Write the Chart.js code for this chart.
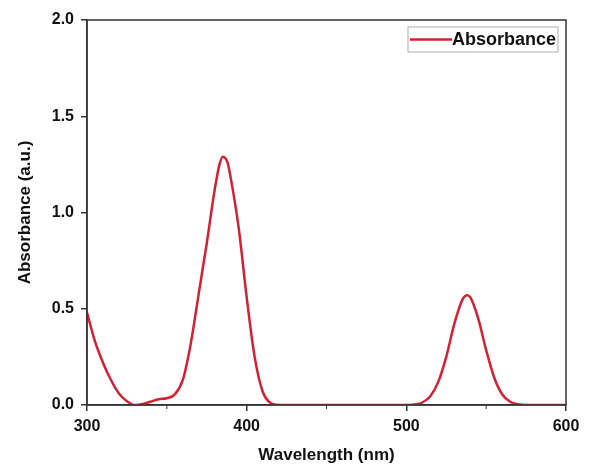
<!DOCTYPE html>
<html>
<head>
<meta charset="utf-8">
<script src="https://cdn.jsdelivr.net/npm/chart.js@4/dist/chart.umd.min.js"></script>
<style>
  html, body { margin: 0; padding: 0; background: #fff; }
  #wrap { width: 589px; height: 466px; }
</style>
</head>
<body>
<div id="wrap"><canvas id="uvChart" width="589" height="466"></canvas></div>
<script>
// values
const wavelength = [300, 305, 310, 315, 320, 325, 330, 335, 340, 345, 350, 355, 360, 365, 370, 375, 380, 383, 385, 388, 390, 395, 400, 405, 410, 415, 420,
  450, 480, 500, 505, 510, 515, 520, 525, 530, 535, 538, 540, 545, 550, 555, 560, 565, 570, 575, 600];
const absorbance = [0.48, 0.33, 0.22, 0.13, 0.06, 0.02, 0.0, 0.005, 0.018, 0.03, 0.035, 0.055, 0.13, 0.32, 0.58, 0.84, 1.12, 1.25, 1.29, 1.26, 1.18, 0.92, 0.56, 0.25, 0.07, 0.01, 0.0,
  0.0, 0.0, 0.0, 0.003, 0.013, 0.045, 0.12, 0.25, 0.42, 0.545, 0.57, 0.56, 0.45, 0.285, 0.143, 0.056, 0.017, 0.004, 0.0, 0.0];
const xTicks = [300, 400, 500, 600];
const yTicks = [0.0, 0.5, 1.0, 1.5, 2.0];
const seriesName = 'Absorbance';

const axisColor = '#333';
const lineColor = '#d42032';

// full frame + minor x ticks + boxed legend
const frameLegend = {
  id: 'frameLegend',
  afterDraw(chart) {
    const { ctx, chartArea: a, scales } = chart;
    ctx.save();
    ctx.strokeStyle = axisColor;
    ctx.lineWidth = 1.5;
    ctx.strokeRect(a.left, a.top, a.right - a.left, a.bottom - a.top);

    // minor ticks halfway between labelled ones
    ctx.lineWidth = 1;
    for (let i = 0; i < xTicks.length - 1; i++) {
      const px = scales.x.getPixelForValue((xTicks[i] + xTicks[i + 1]) / 2);
      ctx.beginPath();
      ctx.moveTo(px, a.bottom);
      ctx.lineTo(px, a.bottom + 4);
      ctx.stroke();
    }

    // legend
    const lx = 408, ly = 27, lw = 150, lh = 25;
    ctx.strokeStyle = '#999';
    ctx.lineWidth = 0.8;
    ctx.strokeRect(lx, ly, lw, lh);
    ctx.strokeStyle = lineColor;
    ctx.lineWidth = 2.5;
    ctx.beginPath();
    ctx.moveTo(lx + 2, ly + lh / 2);
    ctx.lineTo(lx + 44, ly + lh / 2);
    ctx.stroke();
    ctx.fillStyle = '#111';
    ctx.font = 'bold 18px "Liberation Sans", Arial, sans-serif';
    ctx.textBaseline = 'middle';
    ctx.fillText(seriesName, lx + 44, ly + lh / 2 + 1);
    ctx.restore();
  }
};

const tickFont = { family: '"Liberation Sans", Arial, sans-serif', size: 16, weight: 'bold' };
const titleFont = { family: '"Liberation Sans", Arial, sans-serif', size: 17, weight: 'bold' };

new Chart(document.getElementById('uvChart'), {
  type: 'line',
  data: {
    datasets: [{
      label: seriesName,
      data: wavelength.map((w, i) => ({ x: w, y: absorbance[i] })),
      borderColor: lineColor,
      borderWidth: 2.5,
      pointRadius: 0,
      cubicInterpolationMode: 'monotone',
      fill: false
    }]
  },
  plugins: [frameLegend],
  options: {
    responsive: false,
    animation: false,
    layout: { padding: { left: 10, right: 23, top: 20, bottom: 0 } },
    plugins: {
      legend: { display: false },
      tooltip: { enabled: false }
    },
    scales: {
      x: {
        type: 'linear',
        min: xTicks[0],
        max: xTicks[xTicks.length - 1],
        afterBuildTicks: s => { s.ticks = xTicks.map(v => ({ value: v })); },
        afterFit: s => { s.height = 61; },
        ticks: { color: '#111', font: tickFont, padding: 6, maxRotation: 0, callback: v => String(v) },
        grid: { drawOnChartArea: false, tickLength: 6, color: axisColor, lineWidth: 1.5 },
        border: { display: true, color: axisColor, width: 1.5 },
        title: { display: true, text: 'Wavelength (nm)', color: '#111', font: titleFont, padding: { top: 0, bottom: 0 } }
      },
      y: {
        min: yTicks[0],
        max: yTicks[yTicks.length - 1],
        afterBuildTicks: s => { s.ticks = yTicks.map(v => ({ value: v })); },
        afterFit: s => { s.width = 77; },
        ticks: { color: '#111', font: tickFont, padding: 7, callback: v => Number(v).toFixed(1) },
        grid: { drawOnChartArea: false, tickLength: 6, color: axisColor, lineWidth: 1.5 },
        border: { display: true, color: axisColor, width: 1.5 },
        title: { display: true, text: 'Absorbance (a.u.)', color: '#111', font: titleFont, padding: { top: 5, bottom: 0 } }
      }
    }
  }
});
</script>
</body>
</html>
